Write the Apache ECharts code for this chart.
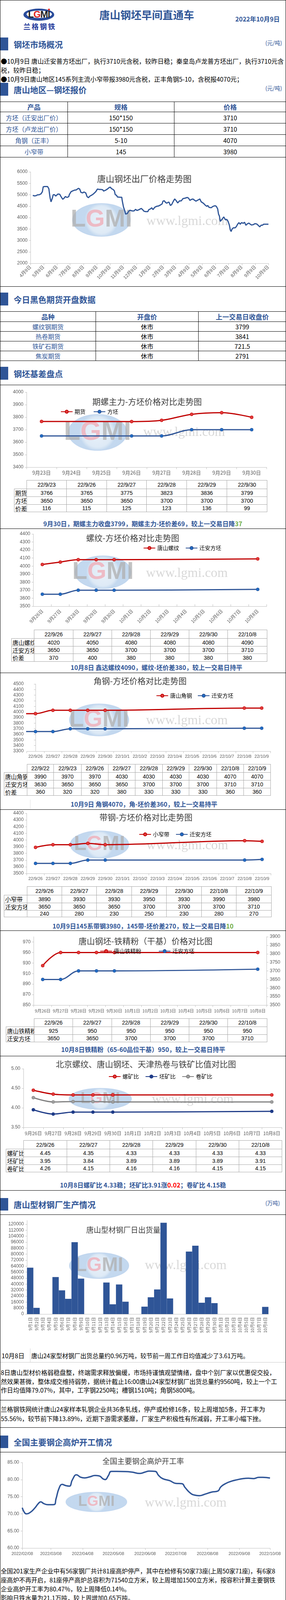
<!DOCTYPE html>
<html><head><meta charset="utf-8">
<script src="https://cdn.jsdelivr.net/npm/echarts@6/dist/echarts.min.js"></script>
<style>
html,body{margin:0;padding:0;background:#fff;}
#page{position:relative;width:733px;height:4122px;overflow:hidden;font-family:"Noto Sans CJK SC","Noto Sans",sans-serif;background:#fff;color:#000;}
</style></head><body><div id="page"></div>
<script>
// ---------------- DATA ----------------
const reportDate = '2022年10月9日';
const quoteProducts = ['方坯（迁安出厂价）','方坯（卢龙出厂价）','角钢（正丰）','小窄带'];
const quoteSpecs = ['150*150','150*150','5-10','145'];
const quotePrices = ['3710','3710','4070','3980'];
const futNames = ['螺纹钢期货','热卷期货','铁矿石期货','焦炭期货'];
const futOpen = ['休市','休市','休市','休市'];
const futPrevClose = ['3799','3841','721.5','2791'];

const priceTickDates = ['2021-04-09','2021-05-09','2021-06-09','2021-07-09','2021-08-09','2021-09-09','2021-10-09','2021-11-09','2021-12-09','2022-01-09','2022-02-09','2022-03-09','2022-04-09','2022-05-09','2022-06-09','2022-07-09','2022-08-09','2022-09-09','2022-10-09'];
const priceDates = ['2021-04-14','2021-04-18','2021-04-22','2021-04-24','2021-04-29','2021-05-03','2021-05-06','2021-05-08','2021-05-11','2021-05-18','2021-05-21','2021-05-23','2021-05-24','2021-05-26','2021-05-29','2021-05-31','2021-06-03','2021-06-06','2021-06-09','2021-06-11','2021-06-15','2021-06-18','2021-06-22','2021-06-25','2021-06-28','2021-07-02','2021-07-06','2021-07-07','2021-07-11','2021-07-15','2021-07-19','2021-07-23','2021-07-28','2021-07-31','2021-08-03','2021-08-07','2021-08-10','2021-08-14','2021-08-17','2021-08-20','2021-08-24','2021-08-28','2021-09-01','2021-09-06','2021-09-10','2021-09-14','2021-09-18','2021-09-22','2021-09-24','2021-09-29','2021-10-03','2021-10-07','2021-10-10','2021-10-12','2021-10-16','2021-10-19','2021-10-21','2021-10-24','2021-10-26','2021-11-01','2021-11-05','2021-11-06','2021-11-09','2021-11-11','2021-11-14','2021-11-18','2021-11-21','2021-11-24','2021-11-29','2021-12-03','2021-12-07','2021-12-10','2021-12-14','2021-12-20','2021-12-23','2021-12-26','2021-12-30','2022-01-04','2022-01-06','2022-01-10','2022-01-13','2022-01-16','2022-01-20','2022-01-24','2022-01-29','2022-02-02','2022-02-06','2022-02-08','2022-02-11','2022-02-14','2022-02-17','2022-02-20','2022-02-22','2022-02-25','2022-02-28','2022-03-04','2022-03-07','2022-03-10','2022-03-14','2022-03-18','2022-03-22','2022-03-26','2022-03-31','2022-04-05','2022-04-08','2022-04-11','2022-04-14','2022-04-18','2022-04-21','2022-04-25','2022-04-29','2022-05-04','2022-05-07','2022-05-12','2022-05-16','2022-05-20','2022-05-22','2022-05-25','2022-05-30','2022-06-03','2022-06-08','2022-06-11','2022-06-14','2022-06-16','2022-06-18','2022-06-20','2022-06-24','2022-06-28','2022-07-02','2022-07-05','2022-07-08','2022-07-11','2022-07-13','2022-07-15','2022-07-17','2022-07-20','2022-07-24','2022-07-27','2022-07-30','2022-08-02','2022-08-05','2022-08-08','2022-08-12','2022-08-15','2022-08-18','2022-08-22','2022-08-25','2022-08-28','2022-08-31','2022-09-04','2022-09-08','2022-09-12','2022-09-16','2022-09-19','2022-09-22','2022-09-25','2022-09-28','2022-10-03','2022-10-09'];
const priceValues = [4970,4950,4960,4990,5000,5040,5130,5345,5360,5360,5260,4975,4850,4690,4850,5000,5000,4940,5000,5030,5020,4920,4800,4850,4920,4880,4920,5000,5130,5170,5200,5210,5280,5250,5100,5080,5120,5080,4920,4870,4945,4985,5040,5130,5250,5230,5230,5220,5160,5200,5250,5315,5330,5270,5230,5170,5000,4975,4900,4890,4890,4750,4460,4350,4150,4180,4280,4320,4290,4290,4360,4310,4340,4400,4350,4280,4260,4260,4340,4380,4430,4350,4450,4490,4510,4550,4600,4720,4735,4660,4630,4670,4670,4530,4570,4720,4815,4750,4640,4730,4730,4830,4850,4880,4850,4750,4790,4815,4770,4720,4760,4815,4690,4630,4550,4490,4530,4450,4430,4490,4520,4490,4380,4150,4065,3835,3920,4030,3900,3920,3835,3665,3465,3390,3490,3550,3550,3605,3710,3780,3710,3780,3750,3795,3665,3735,3760,3710,3675,3690,3735,3720,3650,3595,3665,3665,3710,3710,3710];

const basisCats = ['9月23日','9月24日','9月25日','9月26日','9月27日','9月28日','9月29日','9月30日'];
const basisDates = ['22/9/23','22/9/26','22/9/27','22/9/28','22/9/29','22/9/30'];
const basisFut = [3766,3765,3775,3823,3836,3799];
const basisBillet = [3650,3650,3650,3700,3700,3700];
const basisSpread = [116,115,125,123,136,99];

const rebarCats = ['9月26日','9月27日','9月28日','9月29日','9月30日','10月1日','10月2日','10月3日','10月4日','10月5日','10月6日','10月7日','10月8日'];
const rebarDates = ['22/9/26','22/9/27','22/9/28','22/9/29','22/9/30','22/10/8'];
const rebarTS = [4020,4050,4080,4080,4080,4090];
const rebarBillet = [3650,3650,3700,3700,3700,3710];
const rebarSpread = [370,400,380,380,380,380];

const angleCats = ['22/9/26','22/9/27','22/9/28','22/9/29','22/9/30','22/10/1','22/10/2','22/10/3','22/10/4','22/10/5','22/10/6','22/10/7','22/10/8','22/10/9'];
const angleDates = ['22/9/22','22/9/23','22/9/26','22/9/27','22/9/28','22/9/29','22/9/30','22/10/8','22/10/9'];
const angleTS = [3990,3970,3970,4030,4030,4030,4030,4070,4070];
const angleBillet = [3630,3650,3650,3650,3700,3700,3700,3710,3710];
const angleSpread = [360,320,320,380,330,330,330,360,360];

const stripCats = angleCats;
const stripDates = ['22/9/26','22/9/27','22/9/28','22/9/29','22/9/30','22/10/8','22/10/9'];
const stripTS = [3890,3930,3930,3950,3930,3990,3980];
const stripBillet = [3650,3650,3650,3700,3700,3700,3710];
const stripSpread = [240,280,230,250,230,280,270];

const oreCats = rebarCats;
const oreDates = ['22/9/26','22/9/27','22/9/28','22/9/29','22/9/30','22/10/8'];
const orePrice = [925,950,950,950,950,950];
const oreBillet = [3650,3650,3700,3700,3700,3710];

const ratioCats = rebarCats;
const ratioDates = ['22/9/26','22/9/27','22/9/28','22/9/29','22/9/30','22/10/8'];
const ratioRebar = [4.45,4.35,4.33,4.33,4.33,4.33];
const ratioBillet = [3.95,3.84,3.89,3.89,3.89,3.91];
const ratioCoil = [4.26,4.15,4.16,4.16,4.15,4.15];

const shipCats = ['9月1日','9月2日','9月3日','9月4日','9月5日','9月6日','9月7日','9月8日','9月9日','9月10日','9月11日','9月12日','9月13日','9月14日','9月15日','9月16日','9月17日','9月18日','9月19日','9月20日','9月21日','9月22日','9月23日','9月24日','9月25日','9月26日','9月27日','9月28日','9月29日','9月30日','10月1日','10月2日','10月3日','10月4日','10月5日','10月6日','10月7日','10月8日'];
const shipValues = [62000,8300,0,0,49400,31650,20350,96000,47300,0,0,0,42100,13040,39480,16520,0,0,9900,22430,32870,122000,20870,0,0,83480,91300,15130,22430,14600,0,0,0,0,0,0,0,9600];

const furnaceTickDates = ['2022-02-08','2022-03-08','2022-04-08','2022-05-08','2022-06-08','2022-07-08','2022-08-08','2022-09-08','2022-10-08'];
const furnaceDates = ['2022-02-08','2022-02-10','2022-02-12','2022-02-16','2022-02-20','2022-02-24','2022-02-26','2022-03-01','2022-03-05','2022-03-11','2022-03-13','2022-03-16','2022-03-19','2022-03-22','2022-03-26','2022-03-29','2022-04-02','2022-04-06','2022-04-10','2022-04-15','2022-04-20','2022-04-24','2022-04-28','2022-04-30','2022-05-03','2022-05-06','2022-05-11','2022-05-20','2022-05-26','2022-06-03','2022-06-08','2022-06-12','2022-06-18','2022-06-21','2022-06-25','2022-07-02','2022-07-08','2022-07-14','2022-07-17','2022-07-22','2022-07-26','2022-07-31','2022-08-06','2022-08-12','2022-08-18','2022-08-21','2022-08-26','2022-08-31','2022-09-06','2022-09-11','2022-09-17','2022-09-22','2022-09-27','2022-10-01','2022-10-08'];
const furnaceValues = [71.79,70.46,70.0,70.46,71.6,73.1,73.5,73.0,72.66,72.7,74.4,77.5,78.6,78.3,78.1,79.96,81.4,80.7,80.5,80.8,81.2,81.1,80.2,80.0,81.1,82.4,82.4,82.36,82.2,81.8,82.2,82.5,82.4,81.3,80.3,79.7,78.9,78.8,77.7,76.1,75.5,75.3,75.8,76.35,76.65,77.9,78.9,79.5,79.96,80.27,80.4,80.3,80.65,80.65,80.47];

// ---------------- HELPERS ----------------
const BLUE='#2F5597', RED='#C00000', REDM='#E23B3B', BLUEM='#1F6CC5', NAVY='#1F3C88';
const AX='#BFBFBF', LB='#595959';
const NF='"Liberation Sans Narrow","Liberation Sans","Noto Sans CJK SC",sans-serif';
const CJK='"Noto Sans CJK SC","Noto Sans",sans-serif';
const page=document.getElementById('page');
function el(css, html){const d=document.createElement('div');d.style.cssText='position:absolute;'+css;if(html!==undefined)d.innerHTML=html;page.appendChild(d);return d;}
function hline(y,color){el(`left:0;top:${Math.round(y)}px;width:733px;height:1px;background:${color||'#000'};`);}
function vline(x,y0,y1,color){el(`left:${Math.round(x)}px;top:${y0}px;width:1px;height:${y1-y0}px;background:${color||'#000'};`);}
function txt(x,cy,s,css,lh){lh=lh||22;el(`left:${x}px;top:${cy-lh/2}px;line-height:${lh}px;white-space:nowrap;${css||''}`,s);}
function ctxt(cx,cy,s,css,lh){lh=lh||22;el(`left:${cx}px;top:${cy-lh/2}px;line-height:${lh}px;white-space:nowrap;transform:translateX(-50%);${css||''}`,s);}
function section(top,bottom,title,unit){
  el(`left:0;top:${top}px;width:21px;height:${bottom-top}px;background:${BLUE};`);
  txt(35,(top+bottom)/2,title,`font-size:21px;font-weight:700;color:${BLUE};`,30);
  if(unit) txt(680,(top+bottom)/2-4,unit,`font-size:14px;color:${BLUE};`,20);
}
function table(cols,rows,cells,border,styleFn){
  for(let r=0;r<rows.length-1;r++)for(let c=0;c<cols.length-1;c++){
    const v=cells[r][c]; if(v===null||v===undefined) continue;
    const st=styleFn(r,c);
    const x0=Math.round(cols[c]), x1=Math.round(cols[c+1]), y0=Math.round(rows[r]), y1=Math.round(rows[r+1]);
    el(`box-sizing:border-box;left:${x0}px;top:${y0}px;width:${x1-x0+1}px;height:${y1-y0+1}px;border:1px solid ${border};display:flex;align-items:center;justify-content:${st.align||'center'};padding:0 2px;white-space:nowrap;overflow:hidden;${st.css||''}`,String(v));
  }
}
function excelStyle(r,c){
  if(c===0) return {align:'flex-start',css:`font-size:15px;font-family:${CJK};`};
  return {css:`font-size:14px;font-family:${NF};`};
}
function toCN(d){const p=d.split('/');return p[1]+'月'+p[2]+'日';}
function dayIdx(d,base){const a=d.split('/').map(Number),b=base.split('/').map(Number);return Math.round((new Date(2000+a[0],a[1]-1,a[2])-new Date(2000+b[0],b[1]-1,b[2]))/86400000);}
function ts(s){const p=s.split('-').map(Number);return new Date(p[0],p[1]-1,p[2]).getTime();}
function pad(n){return (n<10?'0':'')+n;}
function fmtDay(t){const d=new Date(t);return d.getFullYear()+'-'+pad(d.getMonth()+1)+'-'+pad(d.getDate());}
function dayList(a,b){const out=[];for(let t=ts(a);t<=ts(b)+3600000;t+=86400000){out.push(fmtDay(t));}
  return out.filter((v,i,arr)=>arr.indexOf(v)===i);}
function mapCats(cats,dates,vals,conv){return cats.map(c=>{const i=dates.findIndex(d=>conv(d)===c);return i<0?null:vals[i];});}
function wm(cx,cy,rx,ry,tx,ty,fs){
  return [
    {type:'ellipse',z:0,silent:true,shape:{cx:cx,cy:cy,rx:rx,ry:ry},style:{fill:{type:'radial',x:0.5,y:0.5,r:0.5,colorStops:[{offset:0,color:'rgba(214,229,244,0.55)'},{offset:0.8,color:'rgba(200,220,240,0.6)'},{offset:1,color:'rgba(170,200,232,0.7)'}]},stroke:'rgba(180,205,235,0.6)',lineWidth:2}},
    {type:'text',z:0,silent:true,x:cx,y:cy,style:{text:'{a|L}{b|G}{a|MI}',rich:{a:{fontSize:ry*1.5,fontWeight:'bold',fontFamily:'Liberation Sans',fill:'rgba(175,175,175,0.75)',color:'rgba(175,175,175,0.75)'},b:{fontSize:ry*1.5,fontWeight:'bold',fontFamily:'Liberation Sans',fill:'rgba(240,170,180,0.75)',color:'rgba(240,170,180,0.75)'}},align:'center',verticalAlign:'middle',textAlign:'center',textVerticalAlign:'middle'}},
    {type:'text',z:0,silent:true,x:tx,y:ty,style:{text:'www.lgmi.com',font:fs+'px "Liberation Serif",serif',fill:'rgba(190,190,190,0.6)',align:'center',verticalAlign:'middle',textAlign:'center',textVerticalAlign:'middle'}}
  ];
}
function ttl(cx,cy,s,fs){return {type:'text',z:1,silent:true,x:cx,y:cy,style:{text:s,font:`${fs||21}px ${CJK}`,fill:'#3C3C3C',align:'center',verticalAlign:'middle',textAlign:'center',textVerticalAlign:'middle'}};}
function yAx(min,max,interval,extra,labelExtra){
  const o=Object.assign({type:'value',min:min,max:max,interval:interval,axisLine:{show:true,lineStyle:{color:AX}},axisTick:{show:true,length:4,lineStyle:{color:AX}},splitLine:{show:false}},extra||{});
  o.axisLabel=Object.assign({color:LB,fontSize:12,fontFamily:NF,margin:8,formatter:v=>String(v)},labelExtra||{});
  return o;
}
function cAx(data,extra){return Object.assign({type:'category',data:data,boundaryGap:true,axisLine:{show:true,lineStyle:{color:AX}},axisTick:{show:true,interval:0,alignWithLabel:false,length:5,lineStyle:{color:AX}},splitLine:{show:false},axisLabel:{interval:0,color:LB,fontSize:12,fontFamily:NF,margin:8}},extra||{});}
function lineS(name,data,color,mcolor,extra){return Object.assign({type:'line',name:name,data:data,smooth:0.35,connectNulls:true,symbol:'circle',symbolSize:8,lineStyle:{color:color,width:3},itemStyle:{color:mcolor,borderColor:color,borderWidth:1},z:3},extra||{});}
function legend(left,top,gap){return {left:left,top:top,itemWidth:30,itemHeight:10,itemGap:gap||20,textStyle:{fontSize:14,color:'#000',fontFamily:CJK}};}
function chart(top,h,opt){const d=el(`left:0;top:${top}px;width:733px;height:${h}px;`);const c=echarts.init(d,null,{renderer:'canvas'});opt.animation=false;try{c.setOption(opt);}catch(e){console.error(e);}return c;}
function dateAxes(tickDates,fmt,labelExtra){
  const days=dayList(tickDates[0],tickDates[tickDates.length-1]);
  const isTick=(i,v)=>tickDates.indexOf(v)>=0;
  return [
    {type:'category',data:days,boundaryGap:false,axisLine:{show:true,lineStyle:{color:AX}},splitLine:{show:false},
     axisTick:{show:true,interval:isTick,length:5,lineStyle:{color:AX}},
     axisLabel:Object.assign({interval:isTick,color:LB,fontFamily:NF,formatter:fmt},labelExtra)},
    {type:'time',min:ts(tickDates[0]),max:ts(tickDates[tickDates.length-1]),show:false}
  ];
}

// ---------------- HEADER ----------------
el('left:60px;top:22px;width:79px;height:31px;border-radius:50%;background:#2A4C9B;');
el('left:68px;top:27px;width:65px;height:19px;border-radius:50%;background:#fff;');
el(`left:58px;top:20px;width:84px;height:34px;display:flex;align-items:center;justify-content:center;font:bold 24px "Liberation Sans",sans-serif;letter-spacing:-1px;`,'<span style="color:#222">L</span><span style="color:#E02424">G</span><span style="color:#222">M</span><span style="color:#222">I</span>');
el('left:123px;top:22px;width:5px;height:5px;border-radius:50%;background:#E02424;');
el(`left:60px;top:56px;width:82px;height:22px;line-height:22px;font-size:18px;font-weight:700;color:#23399A;letter-spacing:3px;white-space:nowrap;`,'兰格钢铁');
ctxt(376,38,'唐山钢坯早间直通车',`font-size:27px;font-weight:700;color:${BLUE};`,34);
txt(603,48,reportDate,`font-size:16px;font-weight:700;color:${BLUE};`,22);

section(96,129,'钢坯市场概况','(元/吨)');
txt(2,156,'●10月9日 唐山迁安普方坯出厂，执行3710元含税，较昨日稳；秦皇岛卢龙普方坯出厂，执行3710元含','font-size:16px;');
txt(2,179,'税，较昨日稳；','font-size:16px;');
txt(2,202,'●10月9日唐山地区145系列主流小窄带报3980元含税，正丰角钢5-10，含税报4070元；','font-size:16px;');
section(212,245,'唐山地区—钢坯报价','(元/吨)');
table([0,173,445.5,733],[260,286,315,344,373,402],
  [['产品','规格','价格']].concat(quoteProducts.map((p,i)=>[p,quoteSpecs[i],quotePrices[i]])),'#000',
  (r,c)=> r===0?{css:`font-size:17px;font-weight:700;color:${BLUE};`}:(c===0?{css:`font-size:16px;color:${BLUE};`}:{css:'font-size:16px;color:#000;'}));

// ---------------- CHART A ----------------
chart(402,331,{
  grid:{left:78.5,right:45,top:38,bottom:59},
  graphic:wm(260,161,74,42,480,165,34).concat([ttl(370,56,'唐山钢坯出厂价格走势图',22)]),
  xAxis:dateAxes(priceTickDates,v=>{const p=v.split('-').map(Number);return p[1]+'月'+p[2]+'日';},{rotate:45,fontSize:12,margin:8}),
  yAxis:yAx(2000,6000,500),
  series:[{type:'line',xAxisIndex:1,data:priceDates.map((d,i)=>[ts(d),priceValues[i]]),symbol:'none',lineStyle:{color:BLUE,width:3},z:3}]
});
hline(733);

section(749,782,'今日黑色期货开盘数据');
table([0,245.4,507.7,733],[797,823,848,873,898,923],
  [['品种','开盘价','上一交易日收盘价']].concat(futNames.map((n,i)=>[n,futOpen[i],futPrevClose[i]])),'#000',
  (r,c)=> r===0?{css:`font-size:17px;font-weight:700;color:${BLUE};`}:(c===0?{css:`font-size:16px;color:${BLUE};`}:{css:'font-size:16px;color:#000;'}));

section(939,972,'钢坯基差盘点');
hline(985);

// ---------------- CHART B ----------------
chart(985,244,{
  grid:{left:68,right:49.5,top:19,height:192},
  graphic:wm(250,122,75,46,472,122,34).concat([ttl(377,43,'期螺主力-方坯价格对比走势图',21)]),
  legend:legend(150,57,20),
  xAxis:cAx(basisCats,{axisLabel:{interval:0,color:LB,fontSize:13,fontFamily:CJK,margin:8}}),
  yAxis:yAx(3400,4000,100),
  series:[lineS('期货',mapCats(basisCats,basisDates,basisFut,toCN),RED,REDM),
          lineS('方坯',mapCats(basisCats,basisDates,basisBillet,toCN),BLUE,BLUEM)]
});
table([36,68,170,272.5,375.4,477.8,580.6,683.5],[1229,1251,1271,1291,1310],
  [[null].concat(basisDates),['期货'].concat(basisFut),['方坯'].concat(basisBillet),['价差'].concat(basisSpread)],'#A6A6A6',excelStyle);
ctxt(366,1340,'9月30日，期螺主力收盘3799，期螺主力-坯价差69，较上一交易日降<span style="color:#70AD47">37</span>',`font-size:16px;font-weight:700;color:${BLUE};`);
hline(1353);

// ---------------- CHART C ----------------
chart(1353,259,{
  grid:{left:85.5,right:49.5,top:14,height:185},
  graphic:wm(264,112,72,42,479,115,34).concat([ttl(340,24,'螺纹-方坯价格对比走势图',21)]),
  legend:legend(362,38,16),
  xAxis:cAx(rebarCats,{axisTick:{show:true,inside:true,interval:0,length:5,lineStyle:{color:AX}},axisLabel:{interval:0,rotate:45,color:LB,fontSize:12,fontFamily:CJK,margin:10}}),
  yAxis:yAx(3500,4400,100),
  series:[lineS('唐山螺纹',mapCats(rebarCats,rebarDates,rebarTS,toCN),RED,REDM),
          lineS('迁安方坯',mapCats(rebarCats,rebarDates,rebarBillet,toCN),BLUE,BLUEM)]
});
table([29,86.5,186.5,285.6,384.8,484.3,583.4,683.5],[1612,1634,1654,1673,1693],
  [[null].concat(rebarDates),['唐山螺纹'].concat(rebarTS),['迁安方坯'].concat(rebarBillet),['价差'].concat(rebarSpread)],'#A6A6A6',excelStyle);
txt(181,1708,'10月8日 鑫达螺纹4090，螺纹-坯价差380，较上一交易日持平',`font-size:16px;font-weight:700;color:${BLUE};`);
hline(1722);

// ---------------- CHART D ----------------
chart(1722,234,{
  grid:{left:68.7,right:40,top:29,height:172},
  graphic:wm(254,121,76,41,479,123,34).concat([ttl(359,21,'角钢-方坯价格对比走势图',21)]),
  legend:legend(395,47,14),
  xAxis:[cAx(angleCats,{axisLabel:{interval:0,color:LB,fontSize:11,fontFamily:NF,margin:8}}),
         {type:'value',min:-0.5,max:angleCats.length-0.5,show:false}],
  yAxis:yAx(3300,4500,100),
  series:[lineS('唐山角钢',angleDates.map((d,i)=>[dayIdx(d,angleCats[0]),angleTS[i]]),RED,REDM,{xAxisIndex:1,clip:true}),
          lineS('迁安方坯',angleDates.map((d,i)=>[dayIdx(d,angleCats[0]),angleBillet[i]]),BLUE,BLUEM,{xAxisIndex:1,clip:true})]
});
table([10.3,68.7,137.4,207.6,276.8,345.5,415.6,484.3,554.5,623.7,693.3],[1956,1977,1997,2017,2036],
  [[null].concat(angleDates),['唐山角钢'].concat(angleTS),['迁安方坯'].concat(angleBillet),['价差'].concat(angleSpread)],'#A6A6A6',excelStyle);
vline(77,2047,2071,'#E0E0E0');vline(245,2047,2071,'#E0E0E0');
txt(181,2058,'10月9日 角钢4070，角-坯价差360，较上一交易持平',`font-size:16px;font-weight:700;color:${BLUE};`);
hline(2072);

// ---------------- CHART E ----------------
chart(2072,197,{
  grid:{left:68.7,right:39,top:10,height:154},
  graphic:wm(255,90,75,35,480,93,34).concat([ttl(374,20,'带钢-方坯价格对比走势图',21)]),
  legend:legend(351,52,16),
  xAxis:cAx(stripCats,{axisLabel:{interval:0,color:LB,fontSize:11,fontFamily:NF,margin:8}}),
  yAxis:yAx(3500,4400,100),
  series:[lineS('小窄带',mapCats(stripCats,stripDates,stripTS,d=>d),RED,REDM),
          lineS('迁安方坯',mapCats(stripCats,stripDates,stripBillet,d=>d),BLUE,BLUEM)]
});
table([10.3,68.7,157.5,247.3,336.6,426.4,515.7,605.4,694.7],[2269,2291,2311,2330,2347],
  [[null].concat(stripDates),['小窄带'].concat(stripTS),['迁安方坯'].concat(stripBillet),[''].concat(stripSpread)],'#A6A6A6',excelStyle);
ctxt(366.5,2370,'10月9日145系带钢3980，145带-坯价差270，较上一交易日降<span style="color:#70AD47">10</span>',`font-size:16px;font-weight:700;color:${BLUE};`);
hline(2382);

// ---------------- CHART F ----------------
chart(2382,225,{
  grid:{left:86.5,right:49.5,top:16,height:175},
  graphic:[ttl(373,27,'唐山钢坯-铁精粉（干基）价格对比图',21)],
  legend:legend(251,41,44),
  xAxis:cAx(oreCats,{axisLabel:{interval:0,color:LB,fontSize:11,fontFamily:CJK,margin:9}}),
  yAxis:[yAx(850,980,20,{},{showMaxLabel:false}),
         yAx(3500,3900,50,{position:'right'})],
  series:[lineS('唐山铁精粉',mapCats(oreCats,oreDates,orePrice,toCN),RED,REDM,{yAxisIndex:0}),
          lineS('迁安方坯',mapCats(oreCats,oreDates,oreBillet,toCN),BLUE,BLUEM,{yAxisIndex:1})]
});
table([15.4,86.5,185.6,285.6,384.8,484.3,583.4,683.5],[2607,2628,2648,2667],
  [[null].concat(oreDates),['唐山铁精粉'].concat(orePrice),['迁安方坯'].concat(oreBillet)],'#A6A6A6',excelStyle);
ctxt(367,2686,'10月8日铁精粉（65-60品位干基）950，较上一交易日持平',`font-size:16px;font-weight:700;color:${BLUE};`);
hline(2703);

// ---------------- CHART G ----------------
chart(2703,216,{
  grid:{left:60,right:11,top:33,height:150},
  graphic:wm(257,110,80,27,494,112,34).concat([ttl(374,21,'北京螺纹、唐山钢坯、天津热卷与铁矿比值对比图',21)]),
  legend:legend(273,41,16),
  xAxis:cAx(ratioCats,{axisLabel:{interval:0,color:LB,fontSize:12,fontFamily:CJK,margin:9}}),
  yAxis:yAx(3.5,5,0.5,{},{formatter:v=>v.toFixed(2)}),
  series:[lineS('螺矿比',mapCats(ratioCats,ratioDates,ratioRebar,toCN),RED,REDM),
          lineS('坯矿比',mapCats(ratioCats,ratioDates,ratioBillet,toCN),NAVY,NAVY),
          lineS('卷矿比',mapCats(ratioCats,ratioDates,ratioCoil,toCN),'#808080','#A0A0A0')]
});
table([15.4,60,170.6,281,391.3,501.6,612.4,722.3],[2919,2941,2961,2981,3000],
  [[null].concat(ratioDates),['螺矿比'].concat(ratioRebar.map(v=>v.toFixed(2))),['坯矿比'].concat(ratioBillet.map(v=>v.toFixed(2))),['卷矿比'].concat(ratioCoil.map(v=>v.toFixed(2)))],'#A6A6A6',excelStyle);
ctxt(366.5,3033,'10月8日螺矿比 4.33稳；坯矿比3.91涨<span style="color:#FF0000">0.02</span>；卷矿比 4.15稳',`font-size:16px;font-weight:700;color:${BLUE};`);
hline(3047);

section(3067,3099,'唐山型材钢厂生产情况','(万吨)');
hline(3109);

// ---------------- CHART H ----------------
chart(3109,343,{
  grid:{left:69.2,right:45,top:15.4,height:239.6},
  graphic:wm(254,131,76,33,476,131,34).concat([ttl(316,40,'唐山型材钢厂日出货量',19)]),
  xAxis:cAx(shipCats,{axisTick:{show:false},axisLabel:{interval:0,rotate:90,color:LB,fontSize:11,fontFamily:CJK,margin:8}}),
  yAxis:yAx(0,125000,8000,{},{showMaxLabel:false}),
  series:[{type:'bar',data:shipValues,barCategoryGap:'0%',itemStyle:{color:BLUE},z:3}]
});
txt(4,3470,'10月8日','font-size:16px;');
vline(77,3452,3487,'#D0D0D0');
txt(80,3470,'唐山24家型材钢厂出货总量约0.96万吨，较节前一周工作日均值减少了3.61万吨。','font-size:15.5px;');
hline(3487,'#C8C8C8');
txt(2,3514,'8日唐山型材价格弱稳盘整，终端需求释放偏缓，市场持谨慎观望情绪，盘中个别厂家以优惠促交投，','font-size:15.8px;');
txt(2,3537,'然效果甚微，整体成交维持弱势，据统计截止16:00唐山24家型材钢厂出货总量约9560吨，较上一个工','font-size:15.8px;');
txt(2,3559,'作日均值降79.07%，其中，工字钢2250吨；槽钢1510吨；角钢5800吨。','font-size:15.8px;');
hline(3584);
txt(2,3608,'兰格钢铁网统计唐山24家样本轧钢企业共36条轧线，停产或检修16条，较上周增加5条，开工率为','font-size:15.8px;');
txt(2,3632,'55.56%，较节前下降13.89%，近期下游需求萎靡，厂家生产积极性有所减弱，开工率小幅下挫。','font-size:15.8px;');
hline(3654);
section(3675,3707,'全国主要钢企高炉开工情况');
hline(3717);

// ---------------- CHART I ----------------
chart(3717,273,{
  grid:{left:57,right:41,top:27,height:219},
  graphic:wm(247,128,78,25,476,131,34).concat([ttl(367,24,'全国主要钢企高炉开工率',19)]),
  xAxis:dateAxes(furnaceTickDates,v=>v.replace(/-/g,'/'),{fontSize:11,margin:9}),
  yAxis:yAx(60,85,5,{},{formatter:v=>v.toFixed(2)}),
  series:[{type:'line',xAxisIndex:1,data:furnaceDates.map((d,i)=>[ts(d),furnaceValues[i]]),smooth:0.5,symbol:'none',lineStyle:{color:BLUE,width:3.5},z:3}]
});
txt(2,4021,'全国201家生产企业中有56家钢厂共计81座高炉停产，其中在检修有50家73座(上周50家71座)，有6家8','font-size:15.6px;');
txt(2,4044,'座高炉不再开启，81座停产高炉总容积为71540立方米，较上周增加1500立方米，按容积计算主要钢铁','font-size:15.6px;');
txt(2,4067,'企业高炉开工率为80.47%，较上周降低0.14%。','font-size:15.6px;');
txt(2,4090,'影响日铁水量为21.1万吨，较上周增加0.65万吨。','font-size:15.6px;');
txt(2,4110,'注：自7月21日开始，兰格钢铁网对原样本160家571座高炉样本进行更换，新样本为201家650座。','font-size:14px;font-weight:700;',20);

// page frame
el('left:0;top:0;width:733px;height:4122px;box-sizing:border-box;border:1px solid #000;pointer-events:none;z-index:10;');
</script></body></html>
